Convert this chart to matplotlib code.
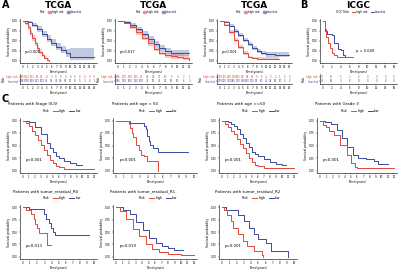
import matplotlib
matplotlib.use("Agg")
import matplotlib.pyplot as plt
from matplotlib.patches import Patch
from matplotlib.lines import Line2D

# ---------------- data ----------------
RED = "#E5473A"
BLUE = "#3B4A9C"

# panel A1 (TCGA)
a1_hi_t = [0, 0.5, 1, 1.5, 2, 2.5, 3, 3.5, 4, 4.5, 5, 5.5]
a1_hi_s = [1, 0.95, 0.84, 0.70, 0.57, 0.44, 0.33, 0.23, 0.15, 0.08, 0.03, 0.0]
a1_hi_lo = [1, 0.91, 0.78, 0.63, 0.50, 0.37, 0.26, 0.17, 0.10, 0.04, 0.01, 0.0]
a1_hi_up = [1, 0.99, 0.90, 0.77, 0.64, 0.51, 0.40, 0.30, 0.21, 0.13, 0.07, 0.02]
a1_lo_t = [0, 1, 2, 3, 4, 5, 6, 7, 8, 9, 10, 15]
a1_lo_s = [1, 0.97, 0.90, 0.80, 0.68, 0.56, 0.46, 0.36, 0.28, 0.20, 0.10, 0.10]
a1_lo_lo = [1, 0.94, 0.85, 0.73, 0.60, 0.48, 0.37, 0.27, 0.19, 0.11, 0.02, 0.02]
a1_lo_up = [1, 1.0, 0.95, 0.87, 0.76, 0.64, 0.55, 0.46, 0.38, 0.30, 0.32, 0.32]
a1_risk_hi = [183, 152, 101, 56, 25, 9, 2, 0, 0, 0, 0, 0, 0, 0, 0, 0]
a1_risk_lo = [183, 178, 160, 131, 102, 76, 55, 40, 28, 19, 12, 8, 5, 3, 2, 1]

# panel A2 (TCGA)
a2_hi_t = [0, 1, 2, 3, 4, 5, 6, 7, 8, 9, 10, 11, 12]
a2_hi_s = [1, 0.95, 0.85, 0.72, 0.58, 0.44, 0.30, 0.20, 0.14, 0.12, 0.10, 0.08, 0.02]
a2_hi_lo = [1, 0.92, 0.80, 0.66, 0.52, 0.38, 0.24, 0.14, 0.08, 0.06, 0.04, 0.02, 0.0]
a2_hi_up = [1, 0.98, 0.90, 0.78, 0.64, 0.50, 0.36, 0.26, 0.20, 0.18, 0.17, 0.15, 0.10]
a2_lo_t = [0, 1, 2, 3, 4, 5, 6, 7, 8, 9, 10, 11, 12]
a2_lo_s = [1, 0.97, 0.90, 0.80, 0.68, 0.55, 0.42, 0.33, 0.25, 0.20, 0.20, 0.20, 0.20]
a2_lo_lo = [1, 0.94, 0.85, 0.74, 0.62, 0.48, 0.35, 0.26, 0.18, 0.13, 0.12, 0.12, 0.12]
a2_lo_up = [1, 1.0, 0.95, 0.86, 0.74, 0.62, 0.49, 0.40, 0.32, 0.28, 0.28, 0.28, 0.28]
a2_risk_hi = [186, 170, 140, 105, 75, 48, 28, 17, 10, 6, 4, 2, 1]
a2_risk_lo = [186, 178, 160, 130, 100, 72, 50, 35, 24, 16, 10, 6, 3]

# panel A3 (TCGA)
a3_hi_t = [0, 1, 2, 3, 4, 5, 6, 7, 8, 10, 12.7]
a3_hi_s = [1, 0.90, 0.72, 0.52, 0.35, 0.20, 0.10, 0.07, 0.06, 0.06, 0.06]
a3_hi_lo = [1, 0.87, 0.67, 0.47, 0.30, 0.16, 0.07, 0.04, 0.03, 0.03, 0.03]
a3_hi_up = [1, 0.93, 0.77, 0.57, 0.40, 0.24, 0.13, 0.10, 0.09, 0.09, 0.09]
a3_lo_t = [0, 1, 2, 3, 4, 5, 6, 7, 8, 9, 10, 12, 15]
a3_lo_s = [1, 0.97, 0.88, 0.76, 0.64, 0.52, 0.42, 0.33, 0.25, 0.20, 0.17, 0.15, 0.15]
a3_lo_lo = [1, 0.95, 0.84, 0.71, 0.59, 0.47, 0.37, 0.28, 0.20, 0.15, 0.11, 0.09, 0.09]
a3_lo_up = [1, 0.99, 0.92, 0.81, 0.69, 0.57, 0.47, 0.38, 0.30, 0.25, 0.23, 0.22, 0.22]
a3_risk_hi = [369, 330, 250, 170, 105, 58, 28, 15, 9, 6, 4, 3, 2, 1, 0, 0]
a3_risk_lo = [369, 360, 330, 285, 235, 190, 150, 115, 85, 60, 42, 28, 18, 10, 5, 2]

# panel B (ICGC)
b_hi_t = [0, 0.4, 0.8, 1.2, 1.6, 2.0, 2.6, 3.2, 6.8]
b_hi_s = [1, 0.80, 0.60, 0.45, 0.32, 0.20, 0.14, 0.10, 0.10]
b_lo_t = [0, 0.5, 1.0, 2.0, 2.5, 3.5, 4.0, 4.5, 4.9]
b_lo_s = [1, 0.75, 0.68, 0.65, 0.45, 0.30, 0.28, 0.15, 0.10]
b_risk_hi = [47, 12, 5, 2, 0, 0, 0, 0, 0]
b_risk_lo = [46, 16, 3, 0, 0, 0, 0, 0, 0]

# panel C subgroups
c1_hi_t = [0, 0.5, 1, 1.5, 2, 2.5, 3, 3.5, 4, 4.5, 5, 5.5, 6, 7, 12]
c1_hi_s = [1, 0.95, 0.90, 0.80, 0.71, 0.62, 0.52, 0.42, 0.32, 0.22, 0.15, 0.10, 0.07, 0.04, 0.04]
c1_lo_t = [0, 1, 2, 3, 4, 4.5, 5, 5.5, 6, 7, 8, 9, 10]
c1_lo_s = [1, 0.97, 0.87, 0.74, 0.56, 0.46, 0.37, 0.30, 0.25, 0.20, 0.16, 0.12, 0.12]

c2_hi_t = [0, 1.6, 1.8, 2.0, 2.2, 2.6, 3.0, 3.2, 3.6, 4.0, 5.4]
c2_hi_s = [1, 0.93, 0.86, 0.75, 0.67, 0.51, 0.41, 0.32, 0.29, 0.20, 0.0]
c2_lo_t = [0, 1.8, 3.6, 3.8, 4.0, 4.2, 4.4, 4.8, 5.4, 9.2]
c2_lo_s = [1, 0.95, 0.90, 0.83, 0.70, 0.60, 0.52, 0.45, 0.38, 0.38]

c3_hi_t = [0, 0.5, 1, 1.5, 2, 2.5, 3, 3.5, 4, 4.5, 5, 5.5, 6, 7, 12]
c3_hi_s = [1, 0.93, 0.87, 0.80, 0.73, 0.63, 0.54, 0.45, 0.36, 0.26, 0.18, 0.12, 0.09, 0.06, 0.05]
c3_lo_t = [0, 1, 1.5, 2, 2.5, 3, 3.5, 4, 4.5, 5, 5.5, 6, 7, 8, 9, 10, 10.7]
c3_lo_s = [1, 0.97, 0.94, 0.89, 0.83, 0.74, 0.65, 0.56, 0.47, 0.38, 0.33, 0.30, 0.24, 0.18, 0.14, 0.12, 0.12]

c4_hi_t = [0, 0.5, 1, 1.5, 2.3, 3.3, 4.3, 5.1, 5.6, 6, 12]
c4_hi_s = [1, 0.92, 0.87, 0.80, 0.71, 0.52, 0.32, 0.16, 0.08, 0.06, 0.06]
c4_lo_t = [0, 0.8, 1.8, 2.8, 3.6, 4.3, 5.4, 6.1, 7.4, 8.7, 9.4, 11]
c4_lo_s = [1, 0.98, 0.94, 0.81, 0.65, 0.48, 0.32, 0.26, 0.23, 0.19, 0.13, 0.13]

r0_hi_t = [0, 0.4, 1.1, 1.5, 1.7, 2.0, 2.2, 3.4, 3.9]
r0_hi_s = [1, 0.95, 0.86, 0.76, 0.66, 0.58, 0.47, 0.23, 0.23]
r0_lo_t = [0, 0.8, 3.0, 3.3, 3.6, 3.9, 4.2, 4.5, 5.4, 9.3]
r0_lo_s = [1, 0.97, 0.86, 0.77, 0.68, 0.59, 0.49, 0.43, 0.43, 0.43]

r1_hi_t = [0, 0.6, 1.6, 2.6, 3.6, 4.6, 5.6, 6.6, 8, 10, 12]
r1_hi_s = [1, 0.92, 0.76, 0.57, 0.41, 0.25, 0.15, 0.10, 0.06, 0.03, 0.03]
r1_lo_t = [0, 1.1, 2.1, 3.1, 4.1, 5.1, 6.1, 7.1, 8, 9, 10.3]
r1_lo_s = [1, 0.95, 0.86, 0.70, 0.54, 0.37, 0.28, 0.21, 0.17, 0.13, 0.13]

r2_hi_t = [0, 0.3, 0.7, 1.2, 1.6, 2.2, 2.9, 3.5, 4.4, 5.5, 5.7]
r2_hi_s = [1, 0.95, 0.85, 0.72, 0.58, 0.45, 0.32, 0.22, 0.12, 0.04, 0.0]
r2_lo_t = [0, 0.5, 2.2, 3.1, 3.7, 4.4, 5.0, 6.1, 6.8, 9.1]
r2_lo_s = [1, 0.95, 0.85, 0.72, 0.58, 0.45, 0.35, 0.28, 0.12, 0.0]

# ---------------- figure ----------------
W, H = 400, 271
fig = plt.figure(figsize=(4, 2.71), dpi=100)
plt.rcParams["font.family"] = "DejaVu Sans"


def box(l, t, r, b):
    return [l / W, 1 - b / H, (r - l) / W, (b - t) / H]


def style(ax, xmax, step):
    ax.set_xlim(-xmax * 0.04, xmax * 1.04)
    ax.set_ylim(-0.05, 1.05)
    ax.set_xticks(list(range(0, xmax + 1, step)))
    ax.set_yticks([0, 0.25, 0.5, 0.75, 1])
    ax.set_yticklabels(["0.00", "0.25", "0.50", "0.75", "1.00"])
    for s in ["top", "right"]:
        ax.spines[s].set_visible(False)
    for s in ["left", "bottom"]:
        ax.spines[s].set_linewidth(0.4)
    ax.tick_params(labelsize=1.9, width=0.3, length=1, pad=0.6)
    ax.set_xlabel("Time(years)", fontsize=2.2, labelpad=0.5)
    ax.set_ylabel("Survival probability", fontsize=2.2, labelpad=1)


def curve(ax, t, s, color, lo=None, up=None):
    ax.step(t, s, where="post", color=color, lw=0.7)
    if lo is not None:
        ax.fill_between(t, lo, up, step="post", color=color, alpha=0.3, lw=0)


def risk_table(l, r, t, b, xmax, step, hi, lo, labels):
    ax = fig.add_axes(box(l, t, r, b))
    ax.set_xlim(-xmax * 0.04, xmax * 1.04)
    ax.set_ylim(-0.6, 1.6)
    ticks = list(range(0, xmax + 1, step))
    for i, x in enumerate(ticks):
        ax.text(x, 1, str(hi[i]), color=RED, fontsize=1.9, ha="center", va="center")
        ax.text(x, 0, str(lo[i]), color=BLUE, fontsize=1.9, ha="center", va="center")
    ax.set_xticks(ticks)
    ax.set_yticks([1, 0])
    ax.set_yticklabels(labels)
    for lab, c in zip(ax.get_yticklabels(), [RED, BLUE]):
        lab.set_color(c)
    for s in ["top", "right"]:
        ax.spines[s].set_visible(False)
    for s in ["left", "bottom"]:
        ax.spines[s].set_linewidth(0.4)
    ax.tick_params(labelsize=1.9, width=0.3, length=1, pad=0.6)
    ax.set_xlabel("Time(years)", fontsize=2.2, labelpad=0.5)
    ax.set_ylabel("Risk", fontsize=2.2, labelpad=0.5)


def band_legend(ax, lab_hi, lab_lo):
    h = [Patch(color="none", label="Risk"),
         Patch(facecolor=RED, edgecolor=RED, alpha=0.5, label=lab_hi),
         Patch(facecolor=BLUE, edgecolor=BLUE, alpha=0.5, label=lab_lo)]
    ax.legend(handles=h, loc="lower center", bbox_to_anchor=(0.5, 1.08), ncol=3,
              fontsize=1.9, frameon=False, handlelength=1.2, handleheight=0.8,
              columnspacing=1, handletextpad=0.4, borderpad=0)


def line_legend(ax):
    h = [Line2D([], [], color="none", label="Risk"),
         Line2D([], [], color=RED, lw=0.7, label="high"),
         Line2D([], [], color=BLUE, lw=0.7, label="low")]
    ax.legend(handles=h, loc="lower center", bbox_to_anchor=(0.5, 1.06), ncol=3,
              fontsize=2.3, frameon=False, handlelength=1.5,
              columnspacing=1.2, handletextpad=0.4, borderpad=0)


# ---- row A ----
a_panels = [
    (20, 97, 15, a1_hi_t, a1_hi_s, a1_hi_lo, a1_hi_up, a1_lo_t, a1_lo_s, a1_lo_lo, a1_lo_up, "p<0.001", a1_risk_hi, a1_risk_lo),
    (115, 192, 12, a2_hi_t, a2_hi_s, a2_hi_lo, a2_hi_up, a2_lo_t, a2_lo_s, a2_lo_lo, a2_lo_up, "p=0.017", a2_risk_hi, a2_risk_lo),
    (217, 292, 15, a3_hi_t, a3_hi_s, a3_hi_lo, a3_hi_up, a3_lo_t, a3_lo_s, a3_lo_lo, a3_lo_up, "p<0.001", a3_risk_hi, a3_risk_lo),
]
for (l, r, xmax, ht, hs, hl, hu, lt, ls, ll, lu, p, rh, rl) in a_panels:
    ax = fig.add_axes(box(l, 19, r, 63))
    curve(ax, lt, ls, BLUE, ll, lu)
    curve(ax, ht, hs, RED, hl, hu)
    style(ax, xmax, 1)
    ax.text(xmax * 0.02, 0.2, p, fontsize=2.6)
    band_legend(ax, "high risk", "low risk")
    ax.set_title("TCGA", fontsize=6.5, fontweight="bold", pad=8)
    risk_table(l, r, 74, 84, xmax, 1, rh, rl, ["high risk", "low risk"])

# ---- panel B ----
ax = fig.add_axes(box(320, 19, 397, 63))
curve(ax, b_lo_t, b_lo_s, BLUE)
curve(ax, b_hi_t, b_hi_s, RED)
style(ax, 16, 2)
ax.text(7.5, 0.22, "p = 0.040", fontsize=2.6)
h = [Line2D([], [], color="none", label="ICGC Risk:"),
     Line2D([], [], color=RED, lw=0.7, label="high risk"),
     Line2D([], [], color=BLUE, lw=0.7, label="low risk")]
ax.legend(handles=h, loc="lower center", bbox_to_anchor=(0.5, 1.08), ncol=3,
          fontsize=1.9, frameon=False, handlelength=1.2, columnspacing=1,
          handletextpad=0.4, borderpad=0)
ax.set_title("ICGC", fontsize=6.5, fontweight="bold", pad=8)
risk_table(320, 397, 74, 84, 16, 2, b_risk_hi, b_risk_lo, ["high risk", "low risk"])

# ---- row C ----
c_panels = [
    (20, 97, 118, 173, 8, "Patients with Stage III-IV", 12, c1_hi_t, c1_hi_s, c1_lo_t, c1_lo_s, "p<0.001"),
    (113, 197, 118, 173, 112, "Patients with age < 50", 10, c2_hi_t, c2_hi_s, c2_lo_t, c2_lo_s, "p<0.001"),
    (219, 297, 118, 173, 217, "Patients with age >=50", 12, c3_hi_t, c3_hi_s, c3_lo_t, c3_lo_s, "p<0.001"),
    (317, 397, 118, 173, 315, "Patients with Grade 3", 12, c4_hi_t, c4_hi_s, c4_lo_t, c4_lo_s, "p<0.001"),
    (20, 97, 205, 259, 13, "Patients with tumor_residual_R0", 10, r0_hi_t, r0_hi_s, r0_lo_t, r0_lo_s, "p=0.013"),
    (113, 197, 205, 259, 110, "Patients with tumor_residual_R1", 12, r1_hi_t, r1_hi_s, r1_lo_t, r1_lo_s, "p=0.019"),
    (219, 297, 205, 259, 215, "Patients with tumor_residual_R2", 10, r2_hi_t, r2_hi_s, r2_lo_t, r2_lo_s, "p<0.001"),
]
for (l, r, t, b, tx, title, xmax, ht, hs, lt, ls, p) in c_panels:
    ax = fig.add_axes(box(l, t, r, b))
    curve(ax, lt, ls, BLUE)
    curve(ax, ht, hs, RED)
    style(ax, xmax, 1)
    ax.text(xmax * 0.04, 0.2, p, fontsize=2.8)
    line_legend(ax)
    fig.text(tx / W, 1 - (t - 14) / H, title, fontsize=2.9, va="center", ha="left")

# panel letters
fig.text(2 / W, 1 - 5 / H, "A", fontsize=7, fontweight="bold", va="center")
fig.text(300 / W, 1 - 5 / H, "B", fontsize=7, fontweight="bold", va="center")
fig.text(2 / W, 1 - 99 / H, "C", fontsize=7, fontweight="bold", va="center")

fig.savefig("out.png", dpi=100)
